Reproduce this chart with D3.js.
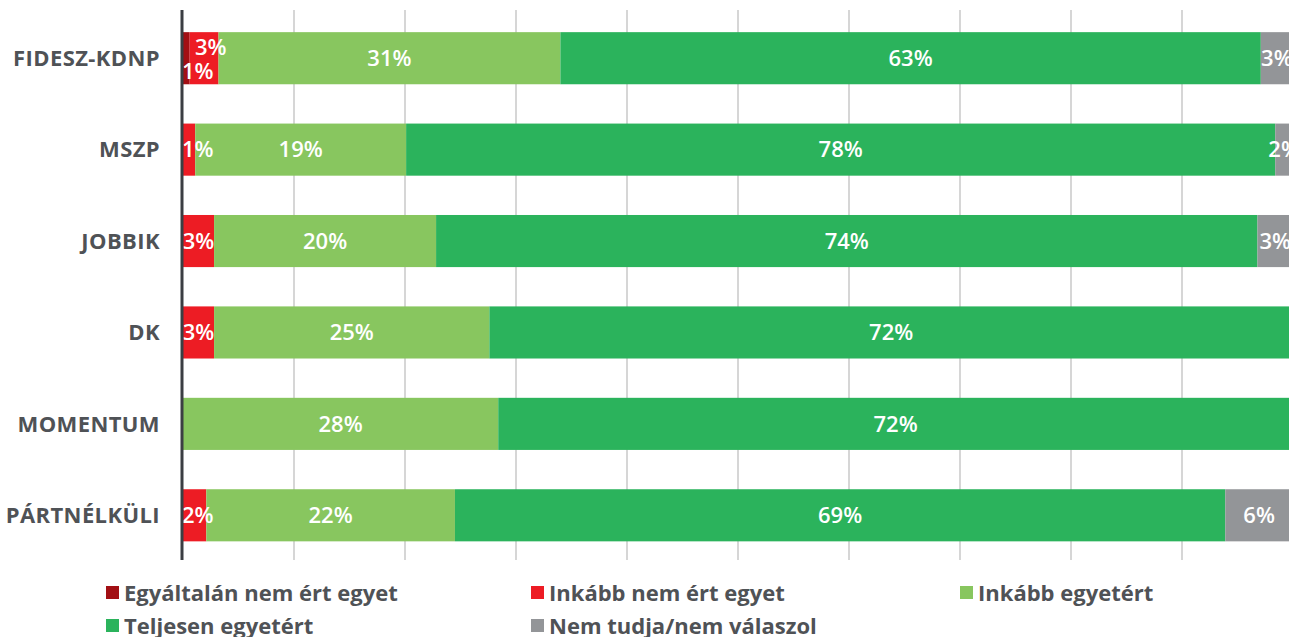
<!DOCTYPE html>
<html>
<head>
<meta charset="utf-8">
<script src="https://cdn.jsdelivr.net/npm/d3@7"></script>
<style>
  body { margin: 0; background: #fff; }
  svg { display: block; font-family: "Open Sans", sans-serif; }
</style>
</head>
<body>
<svg id="chart" width="1289" height="637"></svg>
<script>
// parties, top to bottom
const categories = ['FIDESZ-KDNP', 'MSZP', 'JOBBIK', 'DK', 'MOMENTUM', 'PÁRTNÉLKÜLI'];
const seriesNames = ['Egyáltalán nem ért egyet', 'Inkább nem ért egyet', 'Inkább egyetért', 'Teljesen egyetért', 'Nem tudja/nem válaszol'];
const colors = ['#a20f14', '#ed1c24', '#88c65f', '#2bb35c', '#939598'];

// values in %, one array per series, in category order
const notAtAll   = [0.6, 0,    0,    0,    0,    0];
const ratherNot  = [2.6, 1.1,  2.8,  2.8,  0,    2.1];
const rather     = [30.8, 19.0, 20.0, 24.8, 28.4, 22.4];
const fully      = [63.1, 78.3, 74.0, 72.4, 71.6, 69.4];
const dontKnow   = [2.9, 1.6,  3.2,  0,    0,    6.1];
const xTicks = d3.range(0, 101, 10);

const series = [notAtAll, ratherNot, rather, fully, dontKnow];

const svg = d3.select('#chart');
const x = d3.scaleLinear().domain([0, 100]).range([183, 1293]);
const y = d3.scaleBand().domain(categories).range([12.5, 561]).paddingInner(0.43).paddingOuter(0.215);

// grid
svg.append('g').selectAll('line')
  .data(xTicks.slice(1))
  .enter().append('line')
  .attr('x1', d => x(d)).attr('x2', d => x(d))
  .attr('y1', 10).attr('y2', 560)
  .attr('stroke', '#d6d6d6')
  .attr('stroke-width', 2);

// stacked segments
const rows = categories.map((c, i) => {
  let acc = 0;
  return series.map((s, k) => {
    const seg = { cat: c, k: k, v: s[i], x0: acc, x1: acc + s[i] };
    acc += s[i];
    return seg;
  }).filter(d => d.v > 0);
});

const bars = svg.append('g');
rows.forEach(row => {
  bars.selectAll(null)
    .data(row)
    .enter().append('rect')
    .attr('x', d => x(d.x0))
    .attr('y', d => y(d.cat))
    .attr('width', d => x(d.x1) - x(d.x0))
    .attr('height', y.bandwidth())
    .attr('fill', d => colors[d.k]);
});

// labels
const labels = svg.append('g')
  .attr('fill', '#fff')
  .attr('font-size', 22)
  .attr('font-weight', 600)
  .attr('text-anchor', 'middle');

rows.forEach(row => {
  let prev = null;
  row.forEach(d => {
    const cy = y(d.cat) + y.bandwidth() / 2;
    const t = labels.append('text')
      .attr('y', cy)
      .attr('dy', '0.35em')
      .text(Math.round(d.v) + '%');
    const w = t.node().getComputedTextLength();
    let cx = Math.max((x(d.x0) + x(d.x1)) / 2, x(0) + w / 2 - 1);
    if (prev && cx - w / 2 < prev.right - 4) {
      // stack overlapping small labels
      prev.node.attr('y', cy + 13);
      t.attr('y', cy - 11);
      cx = Math.max(cx, prev.cx + 13);
    }
    t.attr('x', cx);
    prev = { node: t, right: cx + w / 2, cx: cx };
  });
});

// axis line
svg.append('line')
  .attr('x1', 182).attr('x2', 182)
  .attr('y1', 10).attr('y2', 560)
  .attr('stroke', '#3b3e43')
  .attr('stroke-width', 3);

// category labels
svg.append('g').selectAll('text')
  .data(categories)
  .enter().append('text')
  .attr('x', 160)
  .attr('y', d => y(d) + y.bandwidth() / 2)
  .attr('dy', '0.35em')
  .attr('text-anchor', 'end')
  .attr('fill', '#4f5256')
  .attr('font-size', 22)
  .attr('font-weight', 700)
  .attr('letter-spacing', 0.4)
  .text(d => d);

// legend
const legendPos = [[106, 593], [531, 593], [960, 593], [106, 626], [531, 626]];
const legend = svg.append('g').selectAll('g')
  .data(seriesNames)
  .enter().append('g')
  .attr('transform', (d, i) => `translate(${legendPos[i][0]},${legendPos[i][1]})`);
legend.append('rect')
  .attr('x', 0).attr('y', -7)
  .attr('width', 13).attr('height', 13)
  .attr('fill', (d, i) => colors[i]);
legend.append('text')
  .attr('x', 18)
  .attr('dy', '0.35em')
  .attr('fill', '#4f5256')
  .attr('font-size', 22)
  .attr('font-weight', 700)
  .text(d => d);
</script>
</body>
</html>
